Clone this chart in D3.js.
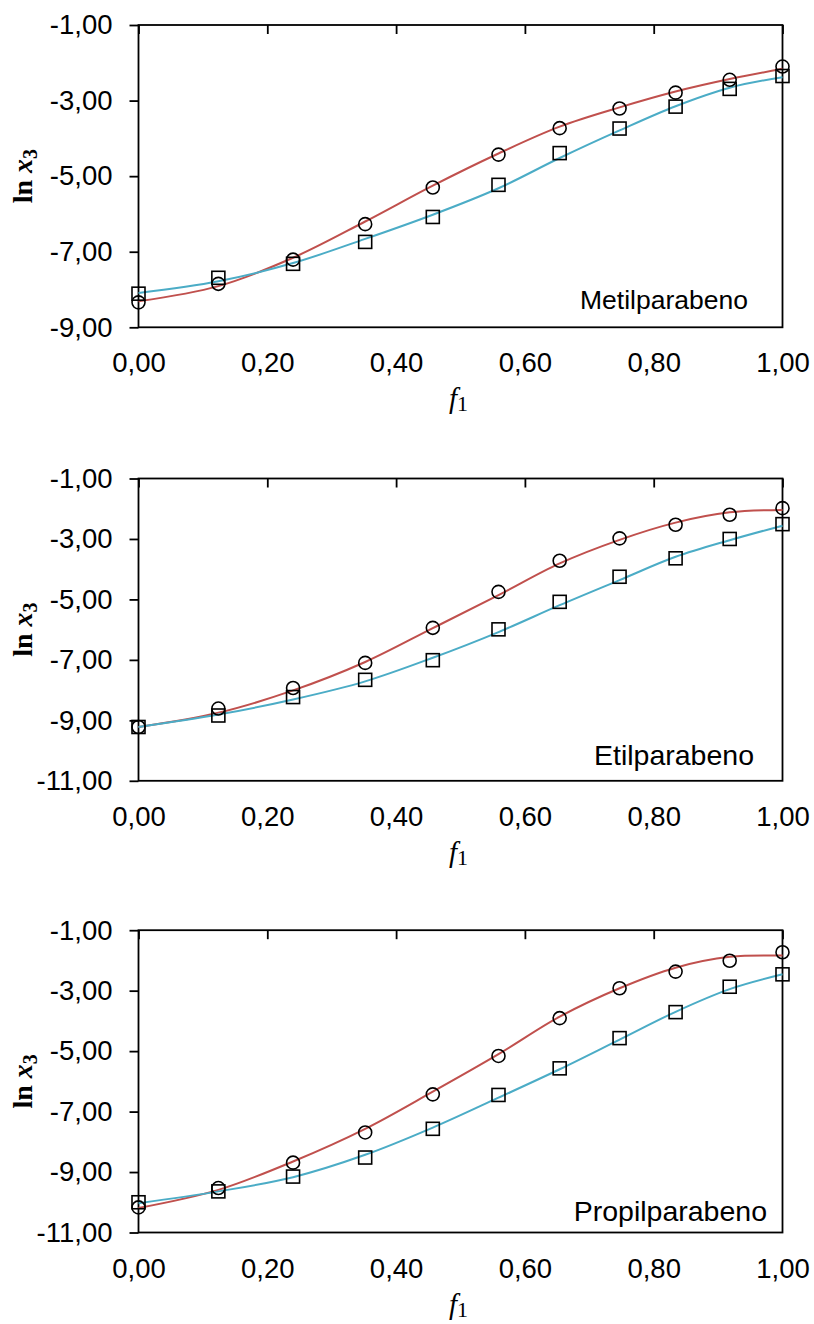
<!DOCTYPE html>
<html>
<head>
<meta charset="utf-8">
<script src="https://cdn.jsdelivr.net/npm/d3@7/dist/d3.min.js"></script>
<style>
  html, body { margin: 0; padding: 0; background: #fff; }
  svg { display: block; }
</style>
</head>
<body>
<svg id="chart" width="814" height="1324"></svg>
<script>
// ---------- data ----------
const fValues = [0.000, 0.124, 0.240, 0.352, 0.457, 0.559, 0.654, 0.747, 0.834, 0.918, 1.000];
const panelNames = ["Metilparabeno", "Etilparabeno", "Propilparabeno"];
const xTicks = [0, 0.2, 0.4, 0.6, 0.8, 1.0];
const yTicksMetil = [-9, -7, -5, -3, -1];
const yTicksOthers = [-11, -9, -7, -5, -3, -1];

// experimental (circles / squares) and fitted curves (red / blue)
const metilCircles = [-8.34, -7.85, -7.21, -6.27, -5.30, -4.43, -3.73, -3.21, -2.79, -2.45, -2.10];
const metilSquares = [-8.11, -7.69, -7.32, -6.74, -6.08, -5.23, -4.39, -3.74, -3.16, -2.69, -2.35];
const metilRed     = [-8.31, -7.91, -7.16, -6.20, -5.25, -4.40, -3.69, -3.18, -2.76, -2.43, -2.16];
const metilBlue    = [-8.09, -7.78, -7.30, -6.66, -6.02, -5.32, -4.52, -3.79, -3.15, -2.66, -2.38];

const etilCircles = [-9.22, -8.61, -7.93, -7.10, -5.94, -4.75, -3.72, -2.98, -2.53, -2.20, -1.98];
const etilSquares = [-9.22, -8.84, -8.23, -7.66, -7.01, -5.99, -5.08, -4.25, -3.64, -3.00, -2.51];
const etilRed     = [-9.22, -8.75, -8.01, -7.07, -5.95, -4.86, -3.81, -3.03, -2.46, -2.12, -2.04];
const etilBlue    = [-9.22, -8.81, -8.31, -7.71, -6.93, -6.08, -5.19, -4.36, -3.59, -3.04, -2.56];

const propilCircles = [-10.17, -9.53, -8.69, -7.69, -6.43, -5.16, -3.91, -2.92, -2.37, -2.01, -1.73];
const propilSquares = [-10.00, -9.64, -9.15, -8.52, -7.57, -6.45, -5.57, -4.57, -3.71, -2.87, -2.46];
const propilRed     = [-10.19, -9.59, -8.65, -7.57, -6.34, -5.10, -3.86, -2.92, -2.24, -1.88, -1.84];
const propilBlue    = [-10.03, -9.64, -9.17, -8.43, -7.53, -6.54, -5.60, -4.62, -3.70, -2.95, -2.46];

// ---------- layout ----------
const panels = [
  { name: panelNames[0], top: 25,    yDomain: [-9, -1],  yTicks: yTicksMetil,  circles: metilCircles,  squares: metilSquares,  red: metilRed,  blue: metilBlue,  labelX: 748, labelDy: 18, labelSize: 26.5 },
  { name: panelNames[1], top: 478.5, yDomain: [-11, -1], yTicks: yTicksOthers, circles: etilCircles,   squares: etilSquares,   red: etilRed,   blue: etilBlue,   labelX: 754, labelDy: 16, labelSize: 28.5 },
  { name: panelNames[2], top: 930.2, yDomain: [-11, -1], yTicks: yTicksOthers, circles: propilCircles, squares: propilSquares, red: propilRed, blue: propilBlue, labelX: 767, labelDy: 12, labelSize: 28.5 }
];
const plotLeft = 138.5, plotRight = 782.5, plotH = 302.3;
const redColor = "#C0504D", blueColor = "#4BACC6";
const sans = "'Liberation Sans', Arial, sans-serif";
const serif = "'Liberation Serif', 'Times New Roman', serif";

const locale = d3.formatLocale({ decimal: ",", thousands: ".", grouping: [3], currency: ["", ""], minus: "-" });
const fmt = locale.format(".2f");

const svg = d3.select("#chart");
const x = d3.scaleLinear().domain([0, 1]).range([plotLeft, plotRight]);

panels.forEach(p => {
  const bottom = p.top + plotH;
  const y = d3.scaleLinear().domain(p.yDomain).range([bottom, p.top]);
  const g = svg.append("g");

  // Y axis (outward ticks + labels)
  const ya = g.append("g")
    .attr("transform", `translate(${plotLeft},0)`)
    .call(d3.axisLeft(y).tickValues(p.yTicks).tickSize(9).tickSizeOuter(0).tickPadding(17).tickFormat(fmt));
  ya.select(".domain").remove();
  ya.selectAll("line").attr("stroke", "#000").attr("stroke-width", 1.8);
  ya.selectAll("text").attr("font-family", sans).attr("font-size", 27.5).attr("fill", "#000");

  // top axis ticks pointing inward
  const ta = g.append("g")
    .attr("transform", `translate(0,${p.top})`)
    .call(d3.axisBottom(x).tickValues(xTicks).tickSize(9).tickSizeOuter(0).tickFormat(""));
  ta.select(".domain").remove();
  ta.selectAll("line").attr("stroke", "#000").attr("stroke-width", 1.8);

  // bottom labels
  const ba = g.append("g")
    .attr("transform", `translate(0,${bottom})`)
    .call(d3.axisBottom(x).tickValues(xTicks).tickSize(0).tickFormat(fmt));
  ba.select(".domain").remove();
  ba.selectAll("text").attr("y", 45).attr("dy", 0)
    .attr("font-family", sans).attr("font-size", 27.5).attr("fill", "#000");

  // frame
  g.append("rect")
    .attr("x", plotLeft).attr("y", p.top)
    .attr("width", plotRight - plotLeft).attr("height", plotH)
    .attr("fill", "none").attr("stroke", "#000").attr("stroke-width", 1.8);

  // fitted curves
  const line = d3.line().x(d => x(d[0])).y(d => y(d[1])).curve(d3.curveCatmullRom.alpha(0.5));
  g.append("path").datum(fValues.map((f, i) => [f, p.red[i]]))
    .attr("d", line).attr("fill", "none").attr("stroke", redColor).attr("stroke-width", 2);
  g.append("path").datum(fValues.map((f, i) => [f, p.blue[i]]))
    .attr("d", line).attr("fill", "none").attr("stroke", blueColor).attr("stroke-width", 2);

  // markers
  g.selectAll(".sq").data(fValues.map((f, i) => [f, p.squares[i]])).enter()
    .append("rect").attr("class", "sq")
    .attr("x", d => x(d[0]) - 6.5).attr("y", d => y(d[1]) - 6.5)
    .attr("width", 13).attr("height", 13)
    .attr("fill", "none").attr("stroke", "#000").attr("stroke-width", 1.6);
  g.selectAll(".ci").data(fValues.map((f, i) => [f, p.circles[i]])).enter()
    .append("circle").attr("class", "ci")
    .attr("cx", d => x(d[0])).attr("cy", d => y(d[1])).attr("r", 6.5)
    .attr("fill", "none").attr("stroke", "#000").attr("stroke-width", 1.6);

  // compound name
  g.append("text").attr("x", p.labelX).attr("y", bottom - p.labelDy)
    .attr("text-anchor", "end").attr("font-family", sans).attr("font-size", p.labelSize)
    .attr("fill", "#000").text(p.name);

  // x title f1
  const xt = g.append("text").attr("x", (plotLeft + plotRight) / 2 - 2).attr("y", bottom + 81)
    .attr("text-anchor", "middle").attr("font-family", serif).attr("font-size", 29).attr("fill", "#000");
  xt.append("tspan").attr("font-style", "italic").text("f");
  xt.append("tspan").attr("font-size", 22).attr("dy", 3).text("1");

  // y title ln x3
  const yt = g.append("text")
    .attr("transform", `translate(32,${p.top + plotH / 2}) rotate(-90)`)
    .attr("text-anchor", "middle").attr("font-family", serif).attr("font-size", 28)
    .attr("font-weight", "bold").attr("fill", "#000");
  yt.append("tspan").text("ln ");
  yt.append("tspan").attr("font-style", "italic").text("x");
  yt.append("tspan").attr("font-size", 20).attr("dy", 5).text("3");
});
</script>
</body>
</html>
